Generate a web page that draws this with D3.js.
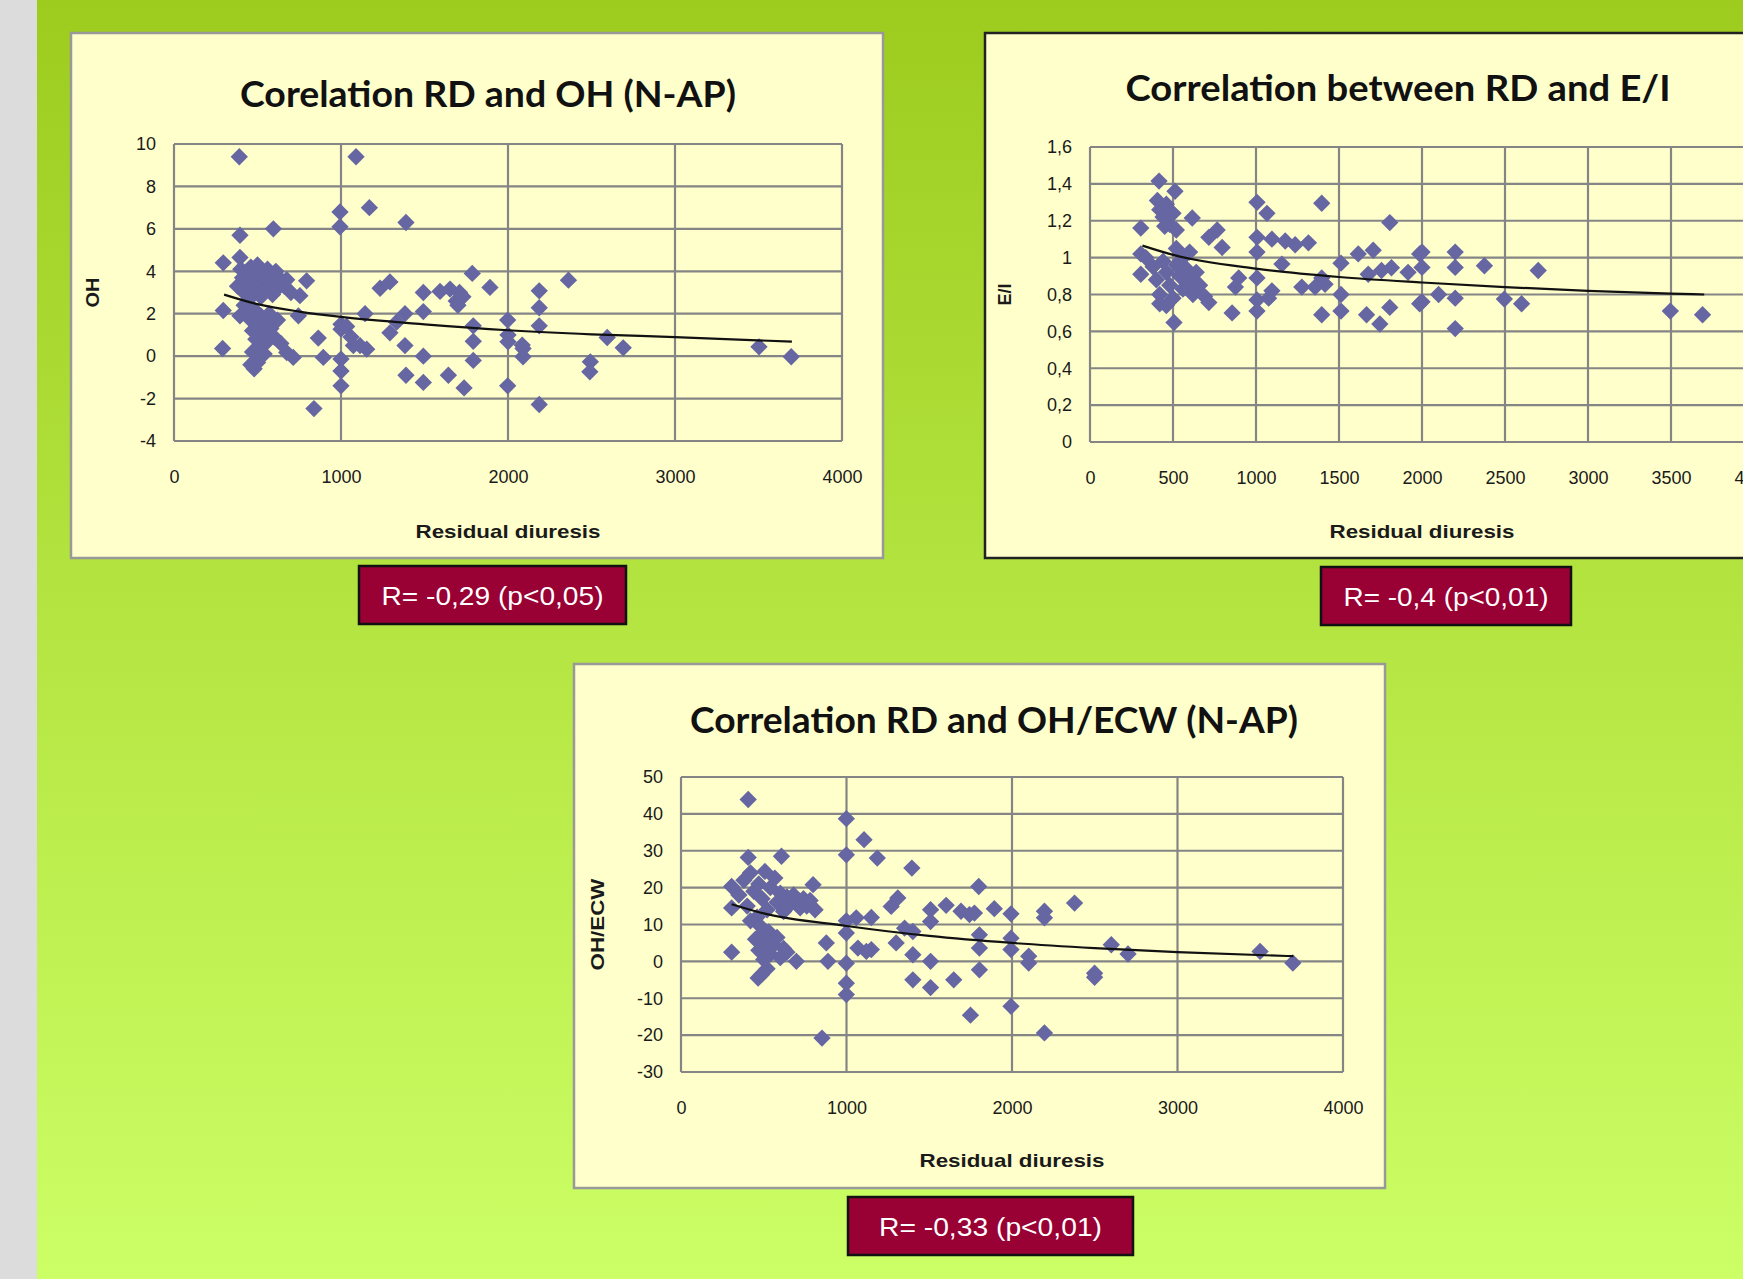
<!DOCTYPE html>
<meta charset="utf-8">
<html>
<head>
<script src="https://d3js.org/d3.v7.min.js"></script>
<style>
  body { margin: 0; background: #dcdcdc; }
  svg { display: block; }
  .tick { font-family: "Liberation Sans", Arial, sans-serif; font-size: 18px; fill: #1a1a1a; }
  .title { font-family: Lato, "Open Sans", sans-serif; font-weight: 700; font-size: 36px; fill: #111; }
  .axtitle { font-family: "Liberation Sans", Arial, sans-serif; font-weight: 700; font-size: 19px; fill: #1a1a1a; }
  .rtext { font-family: "Liberation Sans", Arial, sans-serif; font-size: 25px; fill: #fff; }
</style>
</head>
<body>
<div id="myKeeper"></div>
<script>

// ---- data: residual diuresis vs OH ----
const ohPoints = [
  [391,9.4],[1090,9.4],[994,6.8],[994,6.1],[1170,7.0],[1389,6.3],[395,5.7],[595,6.0],[295,4.4],[395,4.65],
  [380,3.3],[400,4.1],[410,3.7],[420,3.0],[430,3.9],[440,3.4],[450,2.7],[460,4.2],[470,3.6],[480,3.1],
  [490,3.9],[500,4.3],[510,3.5],[520,2.8],[530,4.0],[540,3.7],[550,3.2],[560,4.1],[570,3.8],[580,3.4],
  [590,2.9],[600,3.6],[610,4.0],[620,3.2],[640,3.6],[660,3.3],[675,3.6],[794,3.55],[754,2.85],[700,3.0],
  [745,1.9],[295,2.15],[395,1.9],[420,2.4],[440,2.0],[460,1.7],[470,1.2],[480,2.2],[490,0.8],[500,1.5],
  [510,0.4],[520,1.9],[530,1.1],[540,0.1],[550,1.6],[560,0.7],[570,2.0],[580,1.3],[600,0.9],[620,1.7],
  [640,0.6],[460,-0.4],[480,-0.6],[500,-0.3],[470,0.2],[291,0.36],[675,0.17],[714,-0.06],[864,0.85],[894,-0.06],
  [838,-2.47],[1000,1.5],[1000,1.27],[1000,-0.14],[1000,-0.7],[1000,-1.4],[1034,1.4],[1074,0.5],[1114,0.5],[1154,0.33],
  [1060,0.9],[1144,2.0],[1234,3.2],[1293,3.5],[1293,1.1],[1333,1.6],[1383,2.0],[1383,0.5],[1389,-0.9],[1493,3.0],
  [1493,2.1],[1493,0.0],[1493,-1.24],[1593,3.05],[1653,3.16],[1690,2.6],[1710,3.0],[1730,2.8],[1700,2.4],[1643,-0.9],
  [1737,-1.5],[1786,3.9],[1792,1.43],[1792,0.7],[1792,-0.2],[1892,3.24],[1998,1.7],[2000,1.0],[2000,0.68],[1998,-1.4],
  [2090,0.36],[2090,-0.03],[2085,0.52],[2187,3.08],[2187,2.28],[2187,1.43],[2187,-2.28],[2362,3.58],[2493,-0.27],[2490,-0.74],
  [2594,0.88],[2690,0.39],[3503,0.44],[3696,-0.03]
];
const ohTrend = [[300,2.9],[500,2.45],[750,2.1],[1000,1.85],[1500,1.5],[2000,1.22],[2500,1.03],[3000,0.9],[3700,0.68]];
const ohYTicks = [-4,-2,0,2,4,6,8,10];

// ---- data: residual diuresis vs E/I ----
const eiPoints = [
  [416,1.415],[512,1.36],[406,1.31],[420,1.26],[440,1.22],[460,1.29],[480,1.18],[500,1.24],[520,1.15],[450,1.17],
  [616,1.215],[306,1.16],[716,1.11],[766,1.15],[796,1.055],[1006,1.30],[1066,1.24],[1396,1.295],[1806,1.19],[1006,1.11],
  [1006,1.03],[1096,1.10],[1176,1.09],[1236,1.07],[1316,1.08],[1156,0.965],[306,1.02],[336,1.0],[306,0.91],
  [380,0.95],[400,0.88],[420,0.80],[440,0.98],[460,0.92],[480,0.85],[500,0.78],[520,0.96],[540,0.90],[560,0.83],
  [580,0.94],[600,0.87],[620,0.80],[640,0.92],[660,0.85],[690,0.79],[420,0.75],[460,0.74],[560,1.0],[520,1.05],[600,1.03],
  [716,0.756],[506,0.648],[856,0.70],[896,0.89],[876,0.84],[1006,0.89],[1006,0.77],[1006,0.71],[1096,0.82],[1076,0.78],
  [1276,0.84],[1356,0.84],[1416,0.855],[1396,0.89],[1396,0.69],[1512,0.97],[1512,0.80],[1512,0.71],[1616,1.02],[1706,1.04],
  [1676,0.91],[1756,0.93],[1816,0.945],[1666,0.69],[1746,0.64],[1806,0.73],[1916,0.92],[1986,1.02],[1986,0.75],
  [2000,1.03],[2000,0.947],[2000,0.76],[2100,0.80],[2200,1.03],[2200,0.947],[2200,0.78],[2200,0.615],[2376,0.956],
  [2496,0.775],[2600,0.75],[2700,0.93],[3496,0.71],[3690,0.69]
];
const eiTrend = [[316,1.065],[500,1.015],[1000,0.94],[1500,0.895],[2000,0.865],[2500,0.84],[3000,0.82],[3500,0.805],[3700,0.80]];
const eiYTicks = [0,0.2,0.4,0.6,0.8,1,1.2,1.4,1.6];

// ---- data: residual diuresis vs OH/ECW ----
const ohecwPoints = [
  [406,43.9],[999,38.7],[1106,33.0],[999,28.9],[1186,28.0],[1395,25.3],[406,28.2],[607,28.5],[306,20.3],[798,20.8],
  [1799,20.3],[350,18],[380,22],[400,15],[420,24],[440,19],[460,12],[470,21],[490,17],[507,24.4],
  [520,14],[540,20],[567,22.6],[580,16],[600,18.5],[620,13.5],[640,17.5],[660,15.5],[680,18],[700,16.5],
  [720,14.5],[740,17],[760,15],[780,16.5],[810,14],[420,11],[480,9.5],[306,14.5],[1150,11.9],[999,11.0],
  [1059,11.8],[999,7.7],[1270,14.9],[1310,17.2],[1508,14.0],[1508,10.8],[1602,15.2],[1692,13.6],[1743,12.7],[1773,13.1],
  [1893,14.3],[1994,12.9],[1351,9.0],[1401,8.1],[1300,5.0],[1803,7.2],[1803,3.6],[1994,6.3],[1994,3.2],[306,2.5],
  [450,6],[470,3],[490,7.5],[500,0.5],[510,5],[520,-2],[530,8],[540,2],[560,4.5],[580,6.5],
  [600,1],[620,3.5],[466,-4.5],[486,-3.6],[640,2.5],[697,0.0],[878,5.0],[888,0],[999,-0.5],[999,-5.9],
  [999,-9.0],[1069,3.6],[1120,2.7],[1150,3.2],[1401,1.8],[1401,-5.0],[1508,0],[1508,-7.1],[1648,-5.0],[1803,-2.3],
  [852,-20.8],[1749,-14.6],[1994,-12.2],[2101,1.4],[2101,-0.45],[2196,13.6],[2196,11.8],[2378,15.8],[2499,-3.2],[2499,-4.3],
  [2600,4.5],[2701,2.0],[3499,2.7],[3697,-0.45],[2196,-19.4]
];
const ohecwTrend = [[306,15.5],[500,13],[1000,9.6],[1500,6.9],[2000,5.0],[2500,3.6],[3000,2.5],[3700,1.4]];
const ohecwYTicks = [-30,-20,-10,0,10,20,30,40,50];

const xTicks1000 = [0,1000,2000,3000,4000];
const xTicks500 = [0,500,1000,1500,2000,2500,3000,3500,4000];

const titles = ["Corelation RD and OH (N-AP)", "Correlation between RD and E/I", "Correlation RD and OH/ECW (N-AP)"];
const yTitles = ["OH", "E/I", "OH/ECW"];
const rLabels = ["R= -0,29 (p<0,05)", "R= -0,4 (p<0,01)", "R= -0,33 (p<0,01)"];

// ---- layout ----
const W = 1743, H = 1279;
const svg = d3.select("#myKeeper").append("svg").attr("width", W).attr("height", H);

const defs = svg.append("defs");
const grad = defs.append("linearGradient").attr("id", "bg").attr("x1", 0).attr("y1", 0).attr("x2", 0).attr("y2", 1);
grad.append("stop").attr("offset", "0%").attr("stop-color", "#9dcc1e");
grad.append("stop").attr("offset", "100%").attr("stop-color", "#ccff66");

svg.append("rect").attr("x", 0).attr("y", 0).attr("width", 37).attr("height", H).attr("fill", "#dcdcdc");
svg.append("rect").attr("x", 37).attr("y", 0).attr("width", W - 37).attr("height", H).attr("fill", "url(#bg)");

const charts = [
  { points: ohPoints, trend: ohTrend, yTicks: ohYTicks, xTicks: xTicks1000, yDomain: [-4, 10],
    title: titles[0], yTitle: yTitles[0], r: rLabels[0],
    panel: {x: 71, y: 33, w: 812, h: 525, stroke: "#999", sw: 2.5},
    plot: {x: 174, y: 144, w: 668, h: 297},
    titleX: 488, titleY: 107, titleW: 496, xTitleX: 508, xTitleY: 538, yTitleX: 92, yTitleW: 30,
    box: {x: 359, y: 566, w: 267, h: 58}, rW: 222 },
  { points: eiPoints, trend: eiTrend, yTicks: eiYTicks, xTicks: xTicks500, yDomain: [0, 1.6],
    title: titles[1], yTitle: yTitles[1], r: rLabels[1],
    panel: {x: 985, y: 33, w: 800, h: 525, stroke: "#222", sw: 2.5},
    plot: {x: 1090, y: 147, w: 664, h: 295},
    titleX: 1398, titleY: 101, titleW: 545, xTitleX: 1422, xTitleY: 538, yTitleX: 1004, yTitleW: 22,
    box: {x: 1321, y: 567, w: 250, h: 58}, rW: 205 },
  { points: ohecwPoints, trend: ohecwTrend, yTicks: ohecwYTicks, xTicks: xTicks1000, yDomain: [-30, 50],
    title: titles[2], yTitle: yTitles[2], r: rLabels[2],
    panel: {x: 574, y: 664, w: 811, h: 524, stroke: "#999", sw: 2.5},
    plot: {x: 681, y: 777, w: 662, h: 295},
    titleX: 994, titleY: 733, titleW: 608, xTitleX: 1012, xTitleY: 1167, yTitleX: 597, yTitleW: 92,
    box: {x: 848, y: 1197, w: 285, h: 58}, rW: 223 }
];

const fmt = d => String(d).replace(".", ",");

charts.forEach(c => {
  const g = svg.append("g");

  // panel
  g.append("rect")
    .attr("x", c.panel.x).attr("y", c.panel.y)
    .attr("width", c.panel.w).attr("height", c.panel.h)
    .attr("fill", "#ffffcc").attr("stroke", c.panel.stroke).attr("stroke-width", c.panel.sw);

  // scales
  const x = d3.scaleLinear().domain([0, 4000]).range([c.plot.x, c.plot.x + c.plot.w]);
  const y = d3.scaleLinear().domain(c.yDomain).range([c.plot.y + c.plot.h, c.plot.y]);

  // grid
  g.append("g").selectAll("line").data(c.yTicks).join("line")
    .attr("x1", c.plot.x).attr("x2", c.plot.x + c.plot.w)
    .attr("y1", d => y(d)).attr("y2", d => y(d))
    .attr("stroke", "#858585").attr("stroke-width", 2.2);
  g.append("g").selectAll("line").data(c.xTicks).join("line")
    .attr("x1", d => x(d)).attr("x2", d => x(d))
    .attr("y1", c.plot.y).attr("y2", c.plot.y + c.plot.h)
    .attr("stroke", "#858585").attr("stroke-width", 2.2);

  // axes (labels only)
  const xAxis = g.append("g")
    .attr("transform", `translate(0,${c.plot.y + c.plot.h})`)
    .call(d3.axisBottom(x).tickValues(c.xTicks).tickSize(0).tickPadding(29).tickFormat(d => d));
  const yAxis = g.append("g")
    .attr("transform", `translate(${c.plot.x},0)`)
    .call(d3.axisLeft(y).tickValues(c.yTicks).tickSize(0).tickPadding(18).tickFormat(fmt));
  [xAxis, yAxis].forEach(a => {
    a.select(".domain").remove();
    a.selectAll("text").attr("class", "tick").attr("font-size", null).attr("font-family", null);
    a.attr("font-size", null).attr("font-family", null);
  });

  // points
  g.append("g").selectAll("path").data(c.points).join("path")
    .attr("d", d3.symbol().type(d3.symbolSquare).size(150))
    .attr("transform", d => `translate(${x(d[0])},${y(d[1])}) rotate(45)`)
    .attr("fill", "#6666a3");

  // trend line
  g.append("path").datum(c.trend)
    .attr("fill", "none").attr("stroke", "#111").attr("stroke-width", 2.2)
    .attr("d", d3.line().x(d => x(d[0])).y(d => y(d[1])).curve(d3.curveMonotoneX));

  // titles
  g.append("text").attr("class", "title")
    .attr("x", c.titleX).attr("y", c.titleY).attr("text-anchor", "middle")
    .attr("textLength", c.titleW).attr("lengthAdjust", "spacingAndGlyphs")
    .text(c.title);
  g.append("text").attr("class", "axtitle")
    .attr("x", c.xTitleX).attr("y", c.xTitleY).attr("text-anchor", "middle")
    .attr("textLength", 185).attr("lengthAdjust", "spacingAndGlyphs")
    .text("Residual diuresis");
  g.append("text").attr("class", "axtitle")
    .attr("transform", `translate(${c.yTitleX},${c.plot.y + c.plot.h / 2}) rotate(-90)`)
    .attr("text-anchor", "middle").attr("dy", "0.35em")
    .attr("textLength", c.yTitleW).attr("lengthAdjust", "spacingAndGlyphs")
    .text(c.yTitle);

  // R box
  g.append("rect")
    .attr("x", c.box.x).attr("y", c.box.y).attr("width", c.box.w).attr("height", c.box.h)
    .attr("fill", "#990033").attr("stroke", "#111").attr("stroke-width", 2.5);
  g.append("text").attr("class", "rtext")
    .attr("x", c.box.x + c.box.w / 2).attr("y", c.box.y + 39).attr("text-anchor", "middle")
    .attr("textLength", c.rW).attr("lengthAdjust", "spacingAndGlyphs")
    .text(c.r);
});

</script>
</body>
</html>
